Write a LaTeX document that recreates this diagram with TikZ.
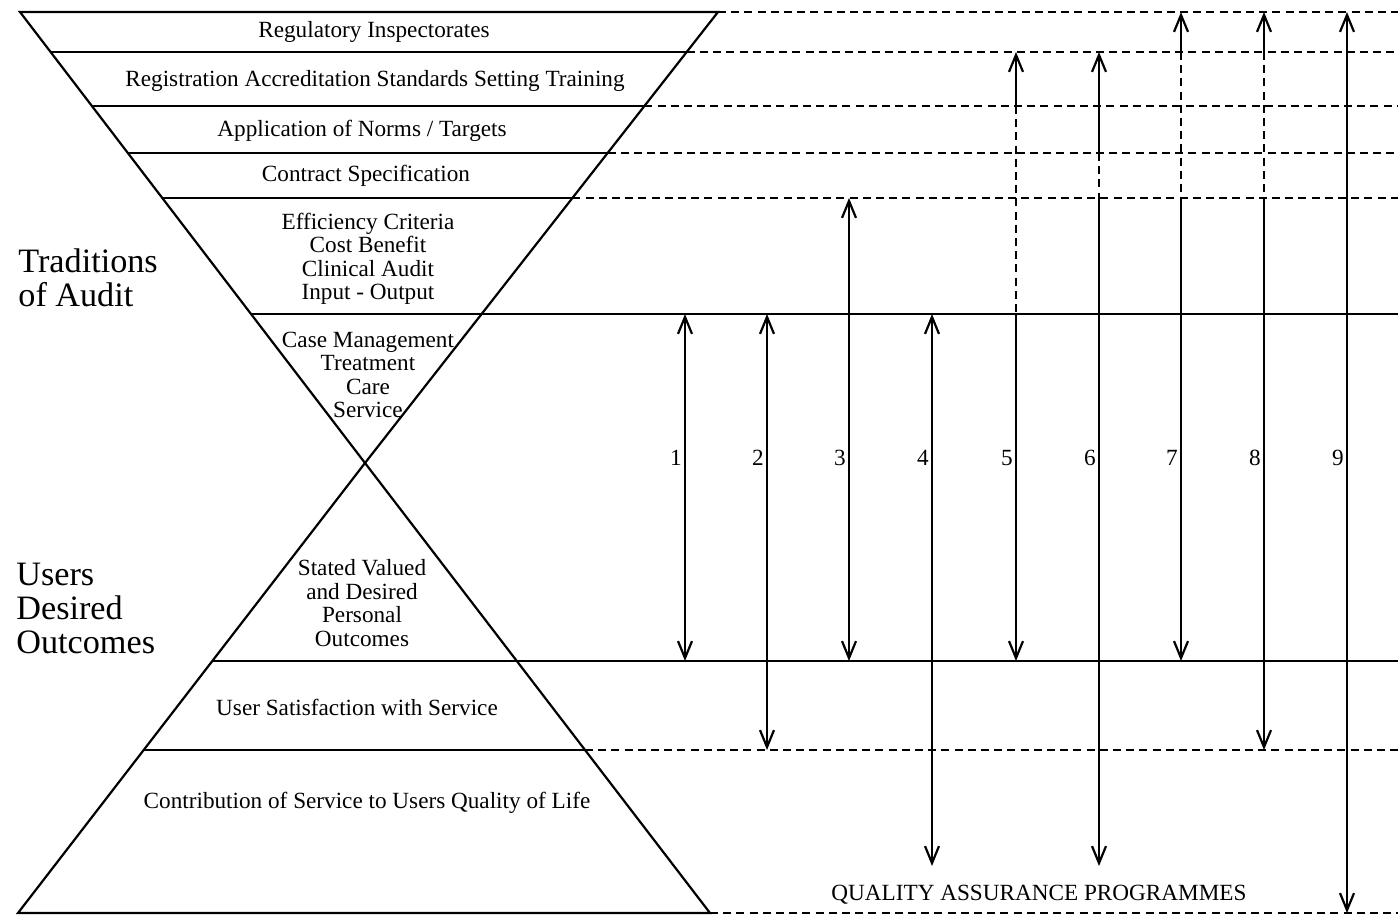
\documentclass[tikz,border=0pt]{standalone}
\usepackage{fontspec}
\setmainfont{Liberation Serif}
\usetikzlibrary{arrows.meta,calc}
\begin{document}
\begin{tikzpicture}[x=0.5pt,y=-0.5pt,
  rule/.style={line width=1.1pt},
  guide/.style={line width=1.1pt,dash pattern=on 4pt off 2.6pt},
  >={Straight Barb[length=8.5pt,width=7pt]},
  layer/.style={font=\fontsize{11.6}{11.7}\selectfont,align=center,inner sep=0pt},
  heading/.style={font=\fontsize{17.1}{17}\selectfont,align=left,inner sep=0pt,anchor=west},
  num/.style={font=\fontsize{11.6}{11.7}\selectfont,inner sep=0pt,anchor=east},
  qa/.style={font=\fontsize{11.6}{11.7}\selectfont,inner sep=0pt}]
\useasboundingbox (0,0) rectangle (1398,920);

% corners of the two triangles and the right margin
\coordinate (TL) at (20,12);
\coordinate (TR) at (718,12);
\coordinate (A)  at (365,463);
\coordinate (BL) at (18,913);
\coordinate (BR) at (710,913);
\coordinate (E)  at (1398,0);

% level points on the edges of the upper (inverted) triangle
\foreach \y/\n in {52/a,106/b,153/c,198/d,314/e}{
  \coordinate (L\n) at ($(TL)!{(\y-12)/451}!(A)$);
  \coordinate (R\n) at ($(TR)!{(\y-12)/451}!(A)$);
}
% level points on the edges of the lower triangle
\foreach \y/\n in {661/f,750/g}{
  \coordinate (L\n) at ($(A)!{(\y-463)/450}!(BL)$);
  \coordinate (R\n) at ($(A)!{(\y-463)/450}!(BR)$);
}

% the two triangles
\draw[rule,line join=miter] (TL) -- (TR) -- (A) -- cycle;
\draw[rule,line join=miter] (A) -- (BR) -- (BL) -- cycle;

% layer lines
\draw[rule] (La) -- (Ra);
\draw[rule] (Lb) -- (Rb);
\draw[rule] (Lc) -- (Rc);
\draw[rule] (Ld) -- (Rd);
\draw[rule] (Le) -- (Le -| E);
\draw[rule] (Lf) -- (Lf -| E);
\draw[rule] (Lg) -- (Rg);

% dashed guides to the right
\draw[guide] (TR) -- (TR -| E);
\draw[guide] (Ra) -- (Ra -| E);
\draw[guide] (Rb) -- (Rb -| E);
\draw[guide] (Rc) -- (Rc -| E);
\draw[guide] (Rd) -- (Rd -| E);
\draw[guide] (Rg) -- (Rg -| E);
\draw[guide] (BR) -- (BR -| E);

% layer texts
\node[layer] (t1) at (374,32) {Regulatory Inspectorates};
\node[layer] (t2) at (375,81) {Registration Accreditation Standards Setting Training};
\node[layer] (t3) at (362,131) {Application of Norms / Targets};
\node[layer] (t4) at (366,176) {Contract Specification};
\node[layer] (t5) at (368,259) {Efficiency Criteria\\Cost Benefit\\Clinical Audit\\Input - Output};
\node[layer] (t6) at (368,375) {Case Management\\Treatment\\Care\\Service};
\node[layer] (t7) at (362,603) {Stated Valued\\and Desired\\Personal\\Outcomes};
\node[layer] (t8) at (357,707) {User Satisfaction with Service};
\node[layer] (t9) at (367,803) {Contribution of Service to Users Quality of Life};

\node[heading] (h1) at (18,278) {Traditions\\of Audit};
\node[heading] (h2) at (16,608) {Users\\Desired\\Outcomes};

\node[qa] (qa) at (1039,895) {QUALITY ASSURANCE PROGRAMMES};

% programme arrows
\coordinate (p1t) at (685,314);  \coordinate (p1b) at (685,661);
\coordinate (p2t) at (767,314);  \coordinate (p2b) at (767,750);
\coordinate (p3t) at (849,198);  \coordinate (p3b) at (849,661);
\coordinate (p4t) at (932,314);  \coordinate (p4b) at (932,866);
\coordinate (p5t) at (1016,52);  \coordinate (p5u) at (1016,106);
\coordinate (p5v) at (1016,314); \coordinate (p5b) at (1016,661);
\coordinate (p6t) at (1099,52);  \coordinate (p6u) at (1099,153);
\coordinate (p6v) at (1099,198); \coordinate (p6b) at (1099,866);
\coordinate (p7t) at (1181,12);  \coordinate (p7u) at (1181,52);
\coordinate (p7v) at (1181,198); \coordinate (p7b) at (1181,661);
\coordinate (p8t) at (1264,12);  \coordinate (p8u) at (1264,52);
\coordinate (p8v) at (1264,198); \coordinate (p8b) at (1264,750);
\coordinate (p9t) at (1347,12);  \coordinate (p9b) at (1347,913);

\draw[rule,<->] (p1t) -- (p1b);
\draw[rule,<->] (p2t) -- (p2b);
\draw[rule,<->] (p3t) -- (p3b);
\draw[rule,<->] (p4t) -- (p4b);
\draw[rule,<-] (p5t) -- (p5u);
\draw[guide] (p5u) -- (p5v);
\draw[rule,->] (p5v) -- (p5b);
\draw[rule,<-] (p6t) -- (p6u);
\draw[guide] (p6u) -- (p6v);
\draw[rule,->] (p6v) -- (p6b);
\draw[rule,<-] (p7t) -- (p7u);
\draw[guide] (p7u) -- (p7v);
\draw[rule,->] (p7v) -- (p7b);
\draw[rule,<-] (p8t) -- (p8u);
\draw[guide] (p8u) -- (p8v);
\draw[rule,->] (p8v) -- (p8b);
\draw[rule,<->] (p9t) -- (p9b);

% programme numbers
\foreach \i/\x in {1/685,2/767,3/849,4/932,5/1016,6/1099,7/1181,8/1264,9/1347}{
  \node[num] (n\i) at (\x-3,458) {\i};
}
\end{tikzpicture}
\end{document}
